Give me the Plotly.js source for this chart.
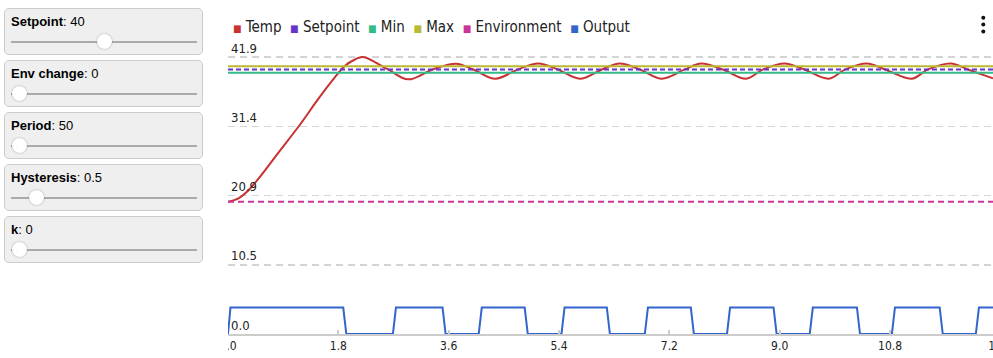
<!DOCTYPE html>
<html><head><meta charset="utf-8">
<script src="https://cdn.plot.ly/plotly-3.0.1.min.js"></script>
<style>
html,body{margin:0;padding:0;overflow:hidden;width:993px;height:358px;background:#fff;}
.box{position:absolute;left:4px;width:197px;height:45px;border:1px solid #ccc;border-radius:5px;background:#efefef;font-family:"Liberation Sans",Arial,sans-serif;font-size:13px;color:#000;}
.lbl{position:absolute;left:6px;top:5px;white-space:nowrap;}
.track{position:absolute;left:6px;width:186px;top:32px;height:2px;background:#aaa;}
.thumb{position:absolute;top:25px;width:15px;height:15px;border-radius:50%;background:#fff;box-shadow:0 0 2px rgba(0,0,0,0.35);}
#chart{position:absolute;left:228px;top:0;width:800px;height:358px;}
</style></head>
<body>
<div id="panel"></div>
<div id="chart"></div>
<script>
// ---- data ----
const tempT = [0, 0.17, 0.33, 0.49, 0.82, 1.17, 1.47, 1.70, 1.90, 2.07, 2.20, 2.61, 2.94, 3.34, 3.72, 4.00, 4.36, 4.73, 5.06, 5.38, 5.74, 6.10, 6.39, 6.72, 7.08, 7.45, 7.72, 8.07, 8.45, 8.73, 9.08, 9.40, 9.80, 10.07, 10.42, 10.72, 11.15, 11.42, 11.79, 12.07, 12.48];
const tempV = [20, 20.5, 21.7, 23.4, 27.4, 31.6, 35.5, 38.3, 40.5, 41.5, 41.88, 40, 38.5, 40, 40.85, 40, 38.6, 40, 40.9, 40, 38.6, 40, 40.9, 40, 38.6, 40, 40.9, 40, 38.6, 40, 40.9, 40, 38.6, 40, 40.9, 40, 38.6, 40, 40.9, 40, 38.65];
const outT = [0, 0.04, 1.88, 1.93, 2.69, 2.74, 3.50, 3.55, 4.09, 4.14, 4.84, 4.89, 5.44, 5.49, 6.18, 6.23, 6.80, 6.85, 7.55, 7.60, 8.14, 8.19, 8.90, 8.95, 9.49, 9.54, 10.26, 10.31, 10.83, 10.88, 11.61, 11.66, 12.20, 12.25, 12.48];
const outV = [0, 4, 4, 0, 0, 4, 4, 0, 0, 4, 4, 0, 0, 4, 4, 0, 0, 4, 4, 0, 0, 4, 4, 0, 0, 4, 4, 0, 0, 4, 4, 0, 0, 4, 4];
const refT = [0, 12.48];
const setpointV = [40, 40];
const minV = [39.5, 39.5];
const maxV = [40.5, 40.5];
const envV = [20, 20];
const seriesNames = ['Temp', 'Setpoint', 'Min', 'Max', 'Environment', 'Output'];
const seriesColors = ['#c83232', '#6633cc', '#33bb88', '#bbb833', '#cc3399', '#3366cc'];
const xTickVals = [0, 1.8, 3.6, 5.4, 7.2, 9.0, 10.8, 12.6];
const xTickText = ['0.0', '1.8', '3.6', '5.4', '7.2', '9.0', '10.8', '12.6'];
const yTickVals = [0, 10.47, 20.94, 31.41, 41.88];
const yTickText = ['0.0', '10.5', '20.9', '31.4', '41.9'];
const sliderNames = ['Setpoint', 'Env change', 'Period', 'Hysteresis', 'k'];
const sliderValues = [40, 0, 50, 0.5, 0];
const sliderMin = [0, 0, 50, 0, 0];
const sliderMax = [80, 20, 500, 5, 1];

// ---- control panel ----
const panel = document.getElementById('panel');
sliderNames.forEach((n, i) => {
  const b = document.createElement('div');
  b.className = 'box';
  b.style.top = (8 + i * 52) + 'px';
  const frac = (sliderValues[i] - sliderMin[i]) / (sliderMax[i] - sliderMin[i]);
  b.innerHTML = '<div class="lbl"><b>' + n + '</b>: ' + sliderValues[i] + '</div>' +
    '<div class="track"></div><div class="thumb" style="left:' + (6.7 + frac * 170) + 'px"></div>';
  panel.appendChild(b);
});

// ---- chart ----
const W = 800, H = 358, mt = 50, mb = 24;
const pxPerX = 61.3, pxPerY = 6.614;
const xMax = W / pxPerX;
const yMax = (H - mt - mb) / pxPerY;
const px2paperX = p => (p - 228) / W;
const px2paperY = p => ((H - mb) - p) / (H - mt - mb);
const FONT = '"DejaVu Sans Condensed", "DejaVu Sans", sans-serif';

const traces = [
  {x: tempT, y: tempV, line: {color: seriesColors[0], width: 2, shape: 'spline', smoothing: 1}},
  {x: refT, y: setpointV, line: {color: seriesColors[1], width: 2, dash: '5px,3px'}},
  {x: refT, y: minV, line: {color: seriesColors[2], width: 2}},
  {x: refT, y: maxV, line: {color: seriesColors[3], width: 2}},
  {x: refT, y: envV, line: {color: seriesColors[4], width: 2, dash: '6px,4px'}},
  {x: outT, y: outV, line: {color: seriesColors[5], width: 2}}
].map((t, i) => Object.assign(t, {type: 'scatter', mode: 'lines', name: seriesNames[i], hoverinfo: 'skip'}));

const legendText = seriesNames.map((n, i) =>
  '<span style="color:' + seriesColors[i] + ';font-size:10px">■</span> ' + n).join('&nbsp;&nbsp;');

const dots = [17.7, 24.6, 31.6].map(py => ({
  type: 'circle', xref: 'paper', yref: 'paper', xsizemode: 'pixel', ysizemode: 'pixel',
  xanchor: px2paperX(983.3), yanchor: px2paperY(py), x0: -2, x1: 2, y0: -2, y1: 2,
  fillcolor: '#111', line: {width: 0}
}));

const layout = {
  width: W, height: H,
  margin: {l: 0, r: 0, t: mt, b: mb, pad: 0},
  paper_bgcolor: '#fff', plot_bgcolor: '#fff',
  showlegend: false,
  font: {family: FONT, color: '#222'},
  xaxis: {
    range: [0, xMax], tickvals: xTickVals, ticktext: xTickText,
    ticks: 'inside', ticklen: 4, tickwidth: 2, tickcolor: '#ccc',
    showline: true, linecolor: '#ccc', linewidth: 2,
    showgrid: false, zeroline: false,
    tickfont: {family: FONT, size: 12, color: '#222'},
    ticklabeloverflow: 'allow', fixedrange: true
  },
  yaxis: {
    range: [0, yMax], tickvals: yTickVals, ticktext: yTickText,
    ticklabelposition: 'inside', ticklabelshift: -9, ticks: '',
    showgrid: true, gridcolor: '#d4d4d4', gridwidth: 1.5, griddash: '7px,5px',
    zeroline: false, showline: false,
    tickfont: {family: FONT, size: 13, color: '#222'},
    ticklabeloverflow: 'allow', fixedrange: true
  },
  annotations: [{
    xref: 'paper', yref: 'paper', x: px2paperX(231), y: px2paperY(27),
    xanchor: 'left', yanchor: 'middle', showarrow: false, align: 'left',
    text: legendText, font: {family: FONT, size: 15, color: '#222'}
  }],
  shapes: dots
};

Plotly.newPlot('chart', traces, layout, {displayModeBar: false, staticPlot: true});
</script>
</body></html>
